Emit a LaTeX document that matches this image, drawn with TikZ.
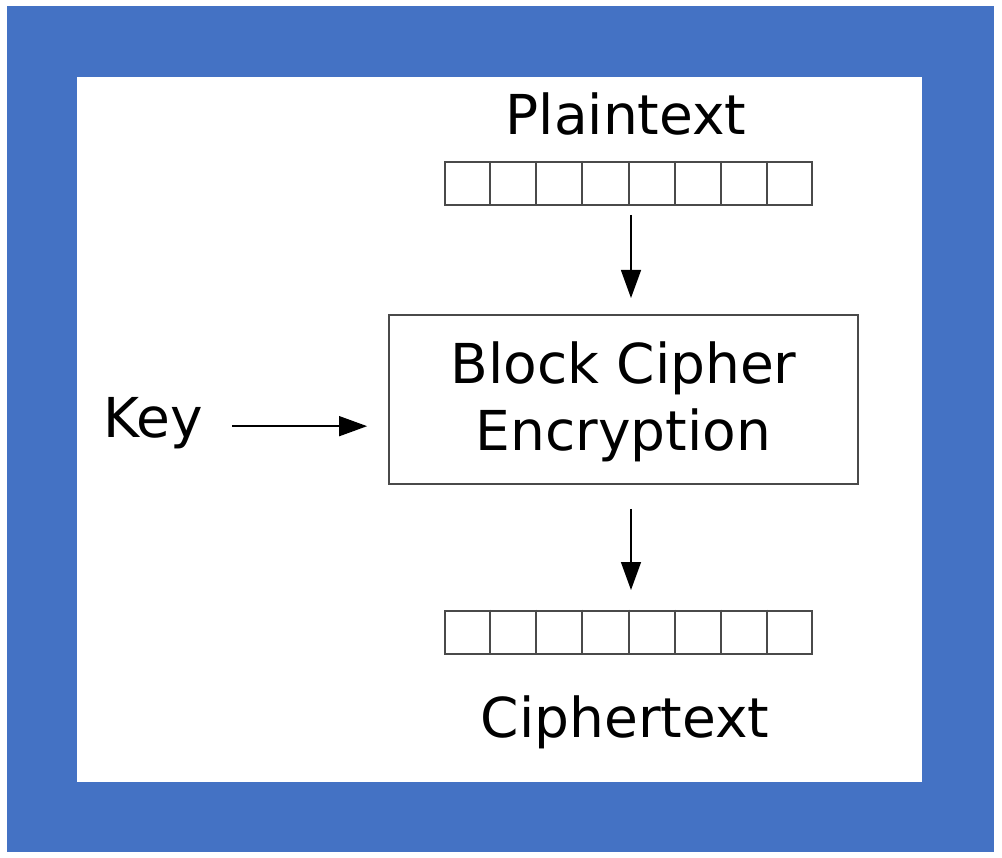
\documentclass[tikz,border=0pt]{standalone}
\usepackage{fontspec}
\setmainfont{DejaVu Sans}
\usetikzlibrary{arrows.meta,calc}
\definecolor{frameblue}{HTML}{4472C4}
\definecolor{linegray}{HTML}{4A4A4A}
\tikzset{
  lbl/.style={inner sep=0pt, font=\fontsize{55}{67}\selectfont},
  cellrow/.style={draw=linegray, line width=2pt, minimum width=367pt, minimum height=43pt, inner sep=0pt},
  cipherbox/.style={draw=linegray, line width=1.8pt, minimum width=469pt, minimum height=169pt, inner sep=0pt, align=center, font=\fontsize{55}{67}\selectfont},
  flow/.style={line width=1.4pt, -{Triangle[length=28pt,width=20pt]}},
}
\begin{document}
\begin{tikzpicture}[x=1pt,y=-1pt]
\fill[white] (0,0) rectangle (1002,858);
\useasboundingbox (0,0) rectangle (1002,858);
\fill[frameblue] (7,6) rectangle (994,852);
\fill[white] (77,77) rectangle (922,782);
% plaintext
\node[lbl, anchor=base] (ptlabel) at (626,135) {Plaintext};
\node[cellrow] (ptcells) at (628.5,183.5) {};
\foreach \i in {1,...,7}
  \draw[linegray, line width=2pt] ($(ptcells.north west)!\i/8!(ptcells.north east)$) -- ($(ptcells.south west)!\i/8!(ptcells.south east)$);
% box
\node[cipherbox] (enc) at (623.5,399.5) {\rule{0pt}{46pt}Block Cipher\\Encryption};
% key
\node[lbl, anchor=base west] (key) at (103,438) {Key};
% ciphertext
\node[cellrow] (ctcells) at (628.5,632) {};
\foreach \i in {1,...,7}
  \draw[linegray, line width=2pt] ($(ctcells.north west)!\i/8!(ctcells.north east)$) -- ($(ctcells.south west)!\i/8!(ctcells.south east)$);
\node[lbl, anchor=base] (ctlabel) at (625,737) {Ciphertext};
% arrows
\coordinate (a1) at (631,205);
\coordinate (a2) at (631,315);
\draw[flow, shorten <=10pt, shorten >=17pt] (a1) -- (a2);
\coordinate (b1) at (631,484);
\coordinate (b2) at (631,609);
\draw[flow, shorten <=25pt, shorten >=19pt] (b1) -- (b2);
\draw[flow, shorten <=29pt, shorten >=21pt] ([yshift=-2.5pt]key.east) -- ([yshift=-2.5pt]key.east -| enc.west);
\end{tikzpicture}
\end{document}
